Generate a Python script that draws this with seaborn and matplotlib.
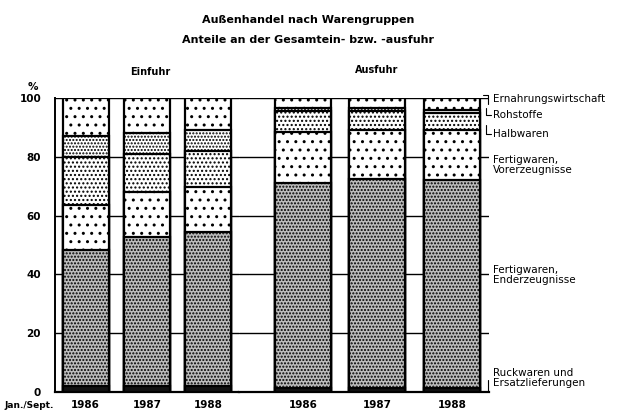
import numpy as np
import pandas as pd
import matplotlib
matplotlib.use("Agg")
import matplotlib.pyplot as plt
from matplotlib.lines import Line2D
import seaborn as sns

# Anteile in % (von unten nach oben)
jahre = ["1986", "1987", "1988"]
gruppen = ["Ruckwaren und\nErsatzlieferungen", "Fertigwaren,\nEnderzeugnisse",
           "Fertigwaren,\nVorerzeugnisse", "Halbwaren", "Rohstoffe",
           "Ernahrungswirtschaft"]
einfuhr_rueck = [2.0, 2.0, 2.0]
einfuhr_ender = [46.3, 50.8, 52.3]
einfuhr_vor = [15.3, 15.3, 15.3]
einfuhr_halb = [16.2, 12.9, 12.3]
einfuhr_roh = [7.3, 7.0, 7.2]
einfuhr_ern = [12.9, 12.0, 10.9]
ausfuhr_rueck = [1.5, 1.5, 1.5]
ausfuhr_ender = [69.5, 71.0, 70.5]
ausfuhr_vor = [17.5, 16.5, 17.0]
ausfuhr_halb = [7.0, 6.5, 6.0]
ausfuhr_roh = [1.0, 1.0, 1.0]
ausfuhr_ern = [3.5, 3.5, 4.0]

einfuhr = [einfuhr_rueck, einfuhr_ender, einfuhr_vor, einfuhr_halb, einfuhr_roh, einfuhr_ern]
ausfuhr = [ausfuhr_rueck, ausfuhr_ender, ausfuhr_vor, ausfuhr_halb, ausfuhr_roh, ausfuhr_ern]

# Muster je Warengruppe (Graustufen wie im Druck)
styles = [
    dict(color="#111111", hatch=None),
    dict(color="#bdbdbd", hatch="....."),
    dict(color="#ffffff", hatch=".."),
    dict(color="#ffffff", hatch="...."),
    dict(color="#ffffff", hatch="....."),
    dict(color="#ffffff", hatch=".."),
]

sns.set_style("white")
plt.rcParams["font.family"] = ["DejaVu Sans"]
plt.rcParams["hatch.linewidth"] = 1.0
plt.rcParams["text.color"] = "black"
plt.rcParams["xtick.color"] = "black"
plt.rcParams["ytick.color"] = "black"

fig = plt.figure(figsize=(6.17, 4.13), dpi=100)
W, H = 617, 413
bottom = (H - 392) / H
top = (H - 98) / H
ax1 = fig.add_axes([55 / W, bottom, (239 - 55) / W, top - bottom])
ax2 = fig.add_axes([239 / W, bottom, (489 - 239) / W, top - bottom])


def stacked(ax, parts):
    cum = np.cumsum(np.array(parts), axis=0)
    for i in range(len(parts) - 1, -1, -1):
        df = pd.DataFrame({"Jahr": jahre, "Anteil": cum[i]})
        sns.barplot(data=df, x="Jahr", y="Anteil", order=jahre, ax=ax,
                    color=styles[i]["color"], hatch=styles[i]["hatch"],
                    edgecolor="black", linewidth=1.6, width=0.75,
                    saturation=1, zorder=3)


stacked(ax1, einfuhr)
stacked(ax2, ausfuhr)

for ax in (ax1, ax2):
    ax.set_ylim(0, 100)
    ax.set_yticks([0, 20, 40, 60, 80, 100])
    for v in [20, 40, 60, 80, 100]:
        ax.axhline(v, color="black", lw=1.0, zorder=1)
    ax.set_xlabel("")
    ax.set_ylabel("")
    ax.spines["top"].set_visible(False)
    ax.spines["right"].set_visible(False)
    ax.spines["bottom"].set_linewidth(1.6)
    ax.spines["bottom"].set_color("black")
    ax.tick_params(axis="x", length=0, pad=6, labelsize=7.5)
    for t in ax.get_xticklabels():
        t.set_fontweight("bold")

ax1.set_xlim(-0.5, 2.5)
ax2.set_xlim(-0.86, 2.5)
ax1.spines["left"].set_linewidth(1.4)
ax1.spines["left"].set_color("black")
ax1.tick_params(axis="y", length=0, pad=10, labelsize=7.5)
for t in ax1.get_yticklabels():
    t.set_fontweight("bold")
ax2.spines["left"].set_visible(False)
ax2.set_yticks([])

fig.text(308 / W, 1 - 20 / H, "Außenhandel nach Warengruppen", ha="center",
         va="center", fontsize=8, fontweight="bold")
fig.text(308 / W, 1 - 40 / H, "Anteile an der Gesamtein- bzw. -ausfuhr", ha="center",
         va="center", fontsize=8, fontweight="bold")
fig.text(150 / W, 1 - 72 / H, "Einfuhr", ha="center", va="center", fontsize=7, fontweight="bold")
fig.text(377 / W, 1 - 70 / H, "Ausfuhr", ha="center", va="center", fontsize=7, fontweight="bold")
fig.text(33 / W, 1 - 87 / H, "%", ha="center", va="center", fontsize=7.5, fontweight="bold")
fig.text(4 / W, 1 - 405 / H, "Jan./Sept.", ha="left", va="center", fontsize=6.5, fontweight="bold")

label_y = [378, 275, 165, 134, 115, 99]
for name, y in zip(gruppen, label_y):
    fig.text(493 / W, 1 - y / H, name, ha="left", va="center", fontsize=7.5,
             linespacing=1.1)

# kleine Zuordnungsklammern
for y0, y1 in [(108, 115), (125, 134)]:
    fig.add_artist(Line2D([486 / W, 486 / W, 491 / W],
                          [1 - y0 / H, 1 - y1 / H, 1 - y1 / H],
                          color="black", lw=0.8))
fig.add_artist(Line2D([483 / W, 488 / W, 488 / W],
                      [1 - 95 / H, 1 - 95 / H, 1 - 104 / H],
                      color="black", lw=0.8))
fig.add_artist(Line2D([488 / W, 488 / W],
                      [1 - 380 / H, 1 - 391 / H],
                      color="black", lw=0.8))

fig.savefig("out.png", dpi=100)
